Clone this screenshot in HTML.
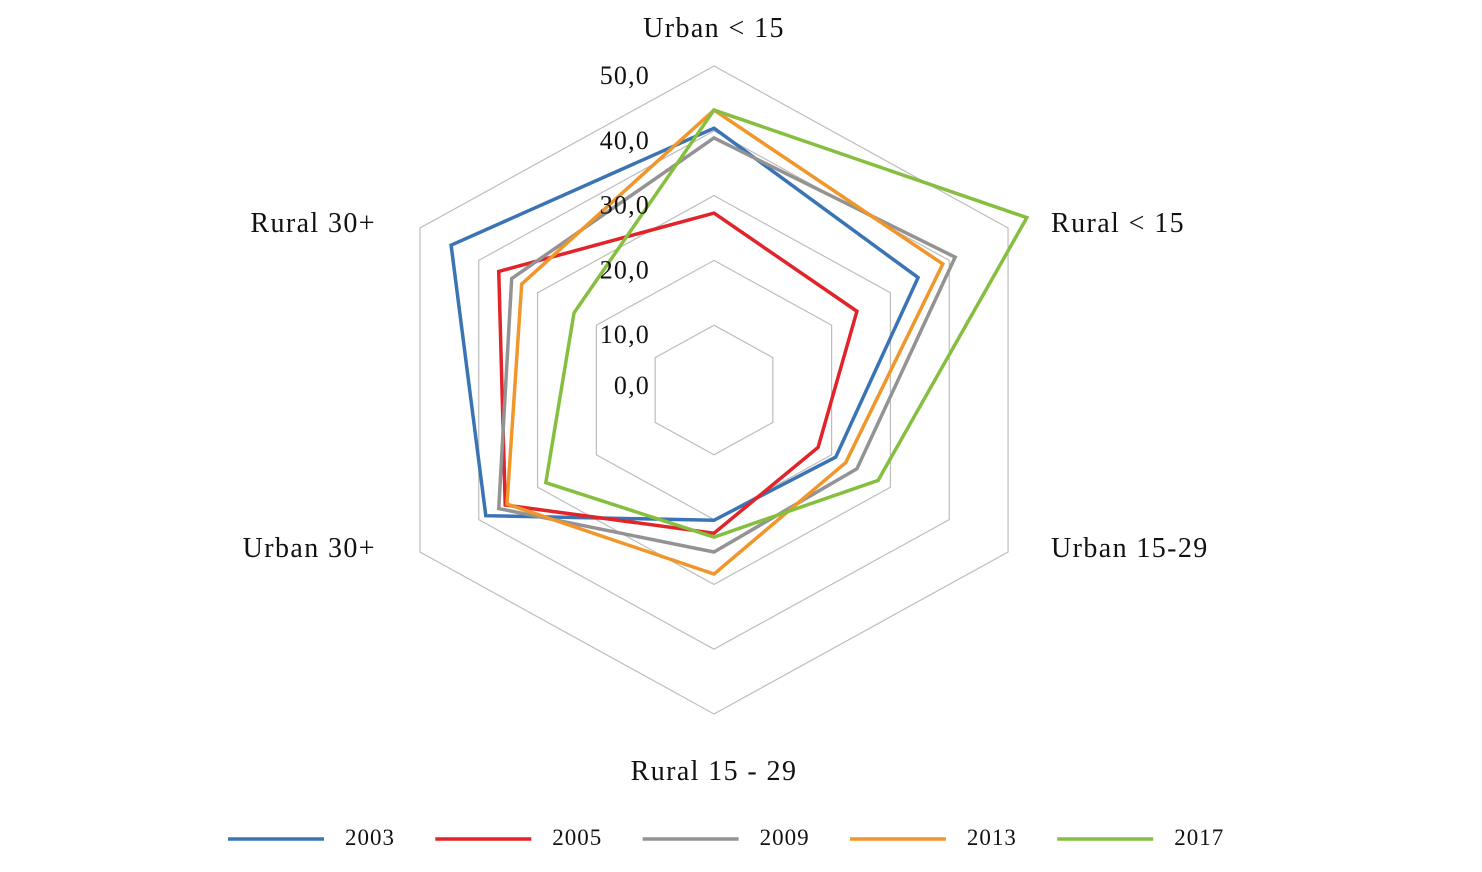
<!DOCTYPE html>
<html><head><meta charset="utf-8"><style>
body{margin:0;background:#fff;}
svg{display:block;font-family:"Liberation Serif",serif;}
</style></head><body>
<svg id="chart" width="1482" height="872"></svg>
<script>
const categories=["Urban < 15","Rural < 15","Urban 15-29","Rural 15 - 29","Urban 30+","Rural 30+"];
const years=["2003","2005","2009","2013","2017"];
const s2003=[40.4,34.7,20.7,20.1,38.8,44.7];
const s2005=[27.3,24.3,17.7,22.1,35.5,36.6];
const s2009=[38.9,41.0,24.3,25.0,36.6,34.4];
const s2013=[43.2,38.9,22.4,28.4,35.2,32.7];
const s2017=[43.2,53.2,27.9,22.7,28.6,23.8];
const ticks=[0,10,20,30,40,50];
const tickLabels=["0,0","10,0","20,0","30,0","40,0","50,0"];
const colors=["#3a74b5","#e1232a","#939393","#f1962a","#86bf40"];
const series=[s2003,s2005,s2009,s2013,s2017];
const NS="http://www.w3.org/2000/svg";
const svg=document.getElementById('chart');
const cx=714,cy=390,maxV=50,R=324,xs=1.048;
function pt(i,v){const a=-Math.PI/2+i*Math.PI/3;const r=v/maxV*R;return [cx+r*Math.cos(a)*xs,cy+r*Math.sin(a)];}
function mk(t,attrs){const e=document.createElementNS(NS,t);for(const k in attrs)e.setAttribute(k,attrs[k]);svg.appendChild(e);return e;}
ticks.forEach((t,j)=>{
  if(t>0){const p=categories.map((c,i)=>pt(i,t).join(',')).join(' ');
  const g=mk('polygon',{points:p,fill:'none',stroke:'#bdbdbd','stroke-width':1.2});
  
  }
});
series.forEach((s,k)=>{
  const p=s.map((v,i)=>pt(i,v).join(',')).join(' ');
  const e=mk('polygon',{points:p,fill:'none',stroke:colors[k],'stroke-width':3.5,'stroke-linejoin':'miter'});
  
  
});
ticks.forEach((t,j)=>{
  const y=cy-t/maxV*R;
  const e=mk('text',{x:650,y:(t===0?cy+4:y+18),'text-anchor':'end','font-size':26,'letter-spacing':1.2,fill:'#111'});
  e.textContent=tickLabels[j];
  
  
});
const labelPos=[[714,37,'middle'],[1051,232,'start'],[1051,557,'start'],[714,780,'middle'],[376,557,'end'],[376,232,'end']];
categories.forEach((c,i)=>{
  const e=mk('text',{x:labelPos[i][0],y:labelPos[i][1],'text-anchor':labelPos[i][2],'font-size':28,'letter-spacing':1.4,fill:'#111'});
  e.textContent=c;
  
  
});
years.forEach((y,k)=>{
  const x0=228+k*207.3;
  const l=mk('line',{x1:x0,y1:839,x2:x0+96,y2:839,stroke:colors[k],'stroke-width':3.5});
  
  
  const t=mk('text',{x:x0+117,y:845,'font-size':23,'letter-spacing':1,fill:'#111'});
  t.textContent=y;
  
  
});
</script>
</body></html>
